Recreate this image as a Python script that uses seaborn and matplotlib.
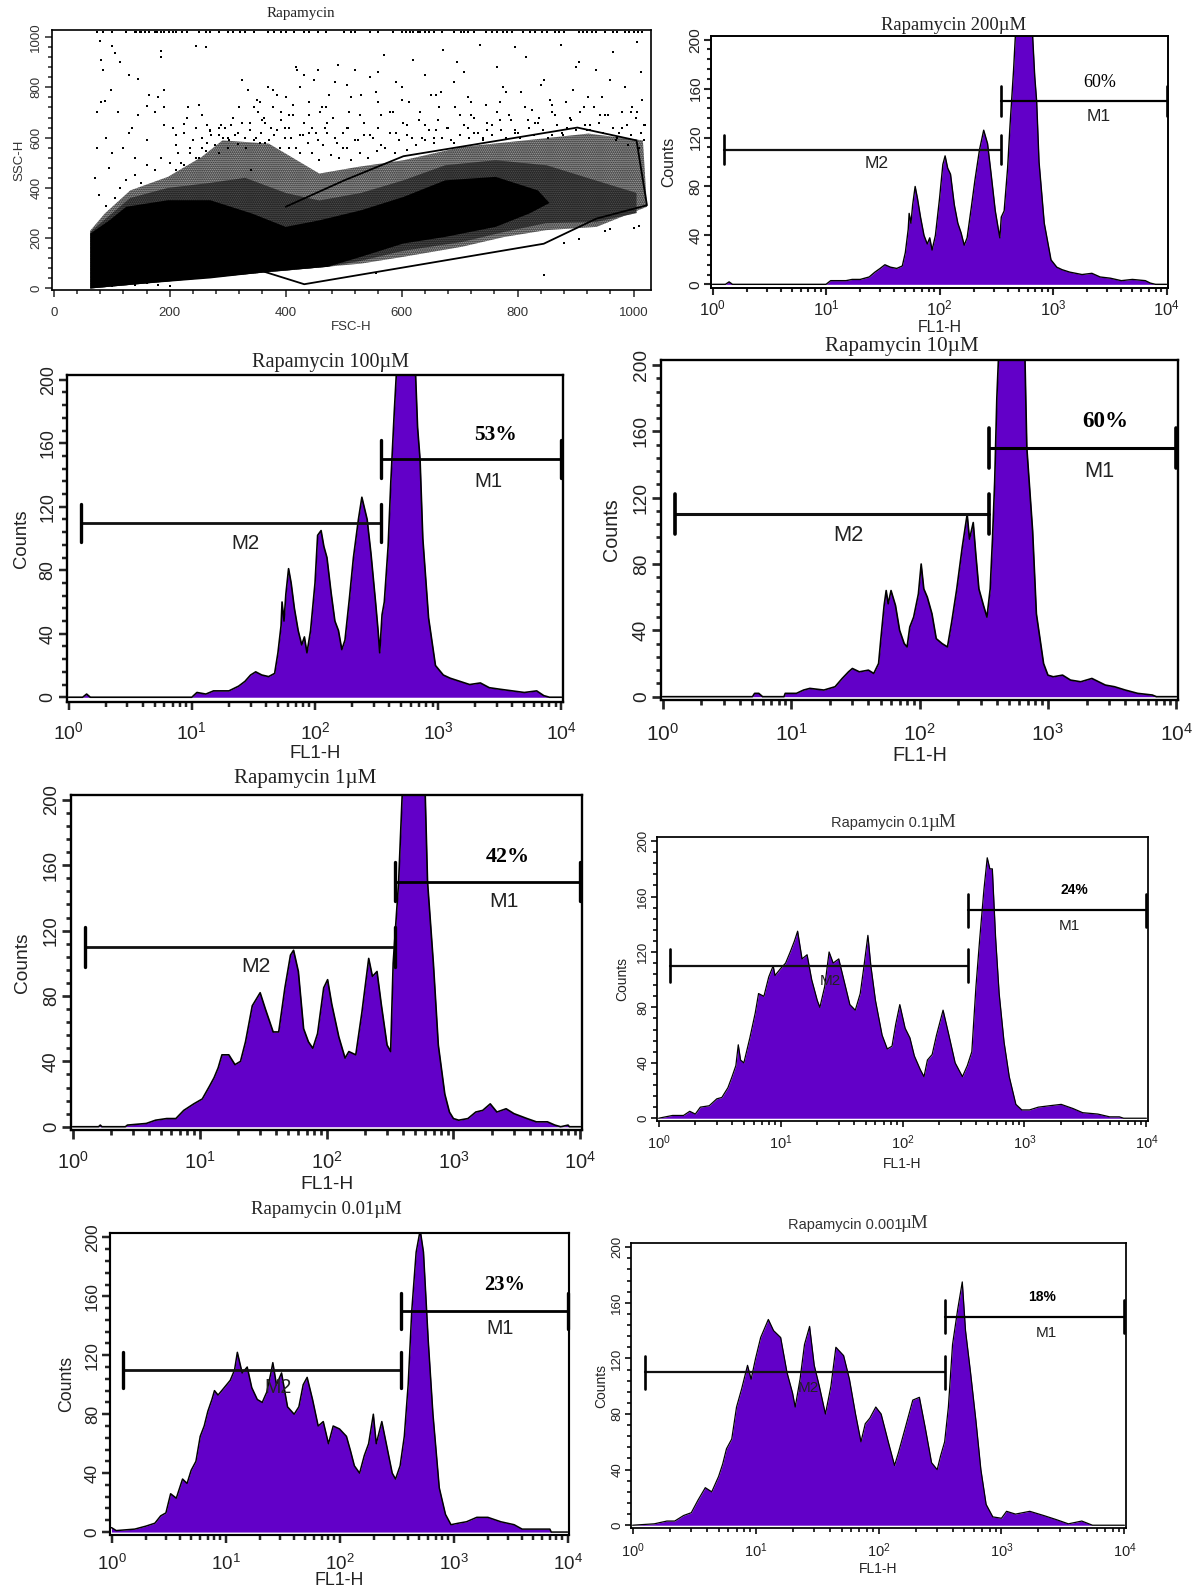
import matplotlib
matplotlib.use("Agg")
import matplotlib.pyplot as plt
from matplotlib.ticker import FixedLocator, MultipleLocator, NullFormatter
import seaborn as sns

sns.set_theme(style="white")
plt.rcParams['font.family'] = ['Liberation Sans', 'DejaVu Sans']
plt.rcParams['mathtext.default'] = 'regular'

PURPLE = "#6200c8"
W, H = 1198, 1591

# --- scatter panel data (FSC-H, SSC-H)
top_row_x = [75, 85, 100, 125, 140, 142, 150, 165, 175, 185, 205, 210, 230, 250, 270, 285, 300, 310, 330, 345,
             370, 380, 400, 415, 440, 455, 470, 500, 520, 545, 560, 585, 600, 615, 620, 640, 655, 670, 690, 715,
             725, 745, 755, 775, 790, 810, 830, 850, 865, 880, 905, 920, 935, 950, 965, 985, 1000, 1015,
             148, 158, 178, 190, 198, 222, 262, 322, 392, 432, 512, 608, 628, 632, 648, 702, 708, 765, 782, 822,
             842, 872, 912, 928, 972, 992, 1008]
sparse_x = [80, 82, 85, 100, 105, 115, 130, 145, 165, 185, 185, 190, 245, 262, 98, 88, 82, 75, 110, 135, 145, 160,
            175, 180, 190, 205, 225, 232, 245, 255, 265, 270, 285, 295, 300, 310, 318, 325, 335, 345, 350, 355, 362,
            370, 375, 385, 392, 400, 405, 412, 420, 425, 432, 440, 448, 455, 460, 468, 475, 482, 490, 498, 505, 512,
            520, 528, 535, 545, 555, 560, 570, 580, 590, 600, 610, 620, 630, 640, 650, 655, 665, 672, 680, 690, 700,
            708, 715, 725, 735, 745, 755, 765, 775, 785, 795, 805, 815, 825, 835, 845, 855, 865, 875, 885, 895, 905,
            915, 925, 935, 945, 955, 965, 975, 985, 995, 1005, 1015, 1020, 1012, 998, 980, 960, 942, 922, 900, 878,
            860, 840, 818, 795, 770, 748, 720, 695, 668, 640, 612, 585, 560, 530, 508, 485, 462, 440, 418, 398, 378,
            355, 338, 320, 302, 288, 272, 255, 240, 225, 210, 430, 445, 410, 390, 365, 348, 332, 455, 472, 488, 505,
            525, 545, 565, 590, 610, 635, 660, 690, 715, 740, 770, 800, 830, 860, 890, 920, 950, 980, 1005, 1018,
            300, 285, 265, 250, 235, 220, 340, 360, 380, 405, 425, 440]
sparse_y = [985, 910, 870, 965, 935, 900, 850, 835, 770, 945, 920, 790, 965, 960, 790, 745, 740, 700, 700, 640, 690,
            725, 700, 760, 720, 640, 655, 720, 640, 690, 650, 625, 610, 640, 600, 680, 620, 830, 790, 720, 750, 580,
            680, 800, 640, 770, 700, 760, 690, 730, 870, 800, 850, 740, 830, 870, 700, 640, 770, 680, 890, 620, 810,
            760, 870, 690, 610, 840, 780, 640, 930, 700, 820, 750, 610, 910, 670, 850, 770, 600, 720, 950, 640, 820,
            690, 860, 760, 620, 970, 730, 650, 880, 800, 690, 630, 780, 920, 710, 660, 830, 750, 690, 970, 640, 790,
            900, 720, 650, 870, 760, 690, 940, 620, 800, 700, 980, 750, 650, 860, 720, 640, 830, 690, 760, 880, 610,
            730, 810, 670, 960, 740, 630, 690, 900, 780, 650, 740, 700, 860, 770, 640, 820, 720, 690, 880, 640, 790,
            740, 660, 720, 590, 650, 610, 560, 590, 620, 570, 610, 640, 600, 560, 580, 600, 560, 590, 620, 580, 560,
            590, 610, 570, 620, 650, 600, 630, 580, 640, 600, 670, 620, 660, 610, 680, 630, 690, 640, 700, 650, 600,
            540, 580, 520, 540, 500, 470, 670, 610, 560, 540, 620]
# the denser dots just above the cloud
extra_pts = [(90, 330), (78, 370), (105, 360), (115, 400), (72, 440), (95, 480), (125, 430), (140, 450), (150, 420),
             (160, 490), (175, 470), (185, 520), (200, 500), (210, 470), (215, 540), (225, 490), (235, 560), (245, 520),
             (255, 600), (262, 545), (270, 630), (278, 570), (285, 640), (292, 600), (300, 560), (305, 650), (312, 610),
             (318, 575), (325, 660), (330, 600), (338, 630), (345, 590), (352, 700), (358, 620), (365, 660), (372, 590),
             (378, 720), (385, 630), (392, 670), (398, 600), (405, 640), (412, 690), (418, 560), (425, 610), (432, 660),
             (438, 580), (445, 540), (452, 620), (458, 510), (465, 570), (472, 660), (478, 530), (485, 600), (492, 520),
             (498, 560), (505, 640), (512, 510), (520, 590), (528, 540), (535, 660), (542, 520), (550, 600), (558, 545),
             (565, 690), (572, 560), (580, 620), (588, 540), (595, 590), (602, 660), (610, 550), (618, 600), (625, 570),
             (632, 700), (640, 590), (648, 630), (655, 580), (662, 670), (670, 600), (678, 640), (685, 590), (692, 720),
             (700, 610), (708, 650), (716, 600), (724, 680), (732, 620), (740, 590), (748, 660), (756, 610), (764, 700),
             (772, 630), (780, 600), (788, 670), (796, 620), (804, 600), (812, 720), (820, 640), (828, 610), (836, 680),
             (844, 630), (852, 600), (860, 700), (868, 650), (876, 620), (884, 740), (892, 670), (900, 630), (908, 700),
             (916, 650), (924, 630), (932, 720), (940, 660), (948, 620), (956, 690), (964, 640), (972, 600), (980, 700),
             (988, 650), (996, 610), (1004, 680), (1012, 620), (1018, 590), (1010, 560), (990, 570), (970, 590),
             (140, 520), (120, 560), (100, 540), (90, 600), (75, 560), (130, 620), (160, 590), (190, 650), (210, 610),
             (230, 680), (250, 730), (470, 720), (510, 700), (560, 740), (600, 800), (660, 770), (720, 740), (780, 780)]
low_x = [845, 100, 120, 140, 160, 180, 200, 70, 555, 1000, 960, 905, 880, 950, 1010]
low_y = [52, 8, 16, 12, 20, 14, 10, 20, 60, 240, 235, 195, 180, 230, 250]

core_x = [63, 96, 125, 197, 270, 342, 400, 458, 530, 603, 675, 762, 835, 855, 820, 762, 675, 603, 530, 472, 371, 270,
          160, 63]
core_y = [218, 271, 325, 351, 351, 298, 245, 271, 311, 364, 430, 444, 390, 340, 298, 245, 205, 179, 126, 86, 66, 40,
          20, 0]
fringe_x = [63, 88, 132, 197, 255, 291, 371, 458, 523, 603, 704, 813, 922, 1016, 1023, 936, 849, 777, 704, 603, 530,
            63]
fringe_y = [230, 298, 390, 444, 523, 589, 576, 457, 483, 510, 563, 589, 616, 589, 325, 245, 232, 205, 166, 126, 99,
            0]
inner_x = [63, 96, 132, 197, 270, 330, 400, 458, 530, 603, 675, 762, 850, 920, 1005, 1005, 936, 849, 777, 704, 603,
           530, 471, 63]
inner_y = [225, 290, 360, 400, 420, 440, 380, 350, 380, 430, 490, 510, 490, 440, 380, 300, 265, 260, 225, 185, 150,
           110, 86, 0]
gate_x = [364, 432, 845, 936, 1023, 1005, 903, 603, 501, 400]
gate_y = [66, 17, 178, 278, 331, 589, 640, 526, 430, 325]

# --- histogram data (FL1-H channel, counts)
x_200 = [1, 1.3, 1.4, 1.5, 10, 11, 13, 15, 17, 20, 24, 27, 30, 33, 37, 42, 47, 50, 53, 54, 56, 58, 61, 64, 68, 73, 78,
         82, 86, 92, 100, 107, 112, 118, 125, 135, 145, 155, 165, 175, 190, 205, 225, 245, 265, 285, 310, 330, 340, 350,
         371, 398, 418, 449, 470, 655, 690, 717, 753, 837, 960, 1080, 1200, 1400, 1800, 2200, 2600, 3200,
         4000, 5000, 6500, 7200, 8000, 10000]
y_200 = [0, 0, 2, 0, 0, 3, 3, 3, 4, 4, 6, 10, 13, 16, 14, 13, 15, 26, 45, 58, 50, 65, 80, 70, 55, 40, 33, 38, 28, 40, 70,
         98, 105, 95, 90, 65, 50, 42, 32, 38, 62, 85, 110, 126, 115, 90, 60, 45, 38, 55, 60, 95, 130, 175, 210, 210, 170,
         150, 100, 50, 20, 14, 12, 10, 8, 9, 6, 5, 3, 4, 3, 1, 0, 0]
x_100 = [1, 1.3, 1.4, 1.5, 10, 11, 13, 15, 17, 20, 24, 27, 30, 33, 37, 42, 47, 50, 53, 54, 56, 58, 61, 64, 68, 73, 78,
         82, 86, 92, 100, 105, 112, 118, 125, 135, 145, 155, 165, 175, 190, 205, 225, 240, 265, 285, 310, 325, 335, 350,
         365, 392, 412, 440, 462, 650, 680, 712, 750, 835, 950, 1100, 1250, 1500, 1800, 2200, 2600, 3200,
         4000, 5000, 6300, 7200, 8000, 10000]
y_100 = [0, 0, 2, 0, 0, 3, 2, 4, 4, 4, 7, 10, 14, 16, 14, 13, 15, 28, 45, 60, 48, 65, 81, 72, 56, 42, 33, 38, 28, 42, 72,
         102, 105, 95, 88, 66, 48, 42, 30, 36, 62, 88, 112, 126, 112, 90, 60, 42, 28, 52, 60, 95, 135, 180, 210, 210, 170,
         150, 100, 50, 20, 14, 12, 10, 8, 9, 6, 5, 4, 3, 4, 1, 0, 0]
x_10 = [1, 5, 5.2, 5.6, 6, 8.8, 9, 11, 12.5, 14, 18, 22, 25, 28, 30, 34, 40, 44, 48, 50, 53, 55, 57, 60, 65, 70, 76, 80,
        84, 90, 98, 103, 108, 115, 125, 135, 150, 165, 178, 195, 215, 235, 245, 262, 275, 290, 315, 335, 355, 370, 385,
        400, 415, 660, 672, 685, 760, 813, 925, 1000, 1100, 1300, 1500, 1800, 2200, 2800, 3300, 4000, 5000, 6500,
        7000, 10000]
y_10 = [0, 0, 2, 2, 0, 0, 2, 2, 4, 5, 4, 6, 11, 15, 17, 15, 16, 14, 20, 35, 55, 64, 56, 64, 55, 40, 32, 30, 42, 48, 62,
        80, 65, 60, 50, 35, 32, 30, 45, 65, 90, 110, 95, 105, 85, 65, 55, 48, 65, 95, 130, 180, 210, 210, 180, 150, 100,
        50, 20, 13, 12, 13, 10, 9, 11, 7, 6, 4, 2, 1, 0, 0]
x_1 = [1, 1.6, 1.65, 1.7, 2.6, 2.7, 3.8, 4.5, 5.5, 6.5, 7.5, 9, 10.5, 12, 13, 14, 15, 17, 19, 21, 23, 26, 30, 33, 38, 42,
       47, 52, 55, 60, 66, 72, 78, 85, 95, 102, 110, 125, 140, 150, 170, 190, 215, 230, 250, 270, 300, 320, 335, 370,
       398, 596, 625, 695, 760, 855, 930, 1000, 1100, 1300, 1500, 1700, 1950, 2200, 2600, 3000, 3800, 4500,
       5500, 6300, 7000, 8000, 8200, 10000]
y_1 = [0, 0, 1, 0, 0, 1, 2, 4, 5, 5, 10, 14, 17, 25, 30, 36, 44, 44, 38, 40, 52, 74, 82, 72, 58, 58, 85, 105, 108, 95, 60,
       52, 48, 57, 85, 90, 75, 55, 42, 46, 44, 70, 103, 92, 95, 75, 50, 46, 100, 150, 210, 210, 150, 100, 50, 20, 9, 5,
       4, 5, 9, 10, 14, 9, 11, 8, 5, 3, 3, 1, 0, 1, 0, 0]
x_01 = [1, 1.3, 1.6, 1.8, 2, 2.2, 2.6, 3, 3.3, 3.7, 4, 4.3, 4.5, 4.7, 5, 5.6, 6.2, 6.6, 7.3, 8, 8.7, 9, 10, 11, 12, 13,
        13.8, 15, 16.5, 18, 20, 21, 23, 25, 27, 30, 33, 37, 41, 45, 48, 52, 55, 60, 68, 75, 82, 88, 95, 105, 115, 125,
        140, 150, 160, 175, 190, 215, 240, 270, 310, 340, 370, 400, 430, 465, 495, 520, 545, 580, 620, 680, 750, 850,
        950, 1100, 1300, 1600, 2000, 2500, 3000, 4000, 5000, 6000, 6500, 10000]
y_01 = [0, 2, 2, 5, 3, 8, 9, 14, 15, 22, 30, 38, 53, 42, 40, 58, 76, 90, 88, 102, 110, 103, 108, 112, 120, 128, 135, 115,
        118, 100, 85, 80, 95, 120, 112, 115, 100, 82, 78, 90, 108, 132, 110, 85, 60, 50, 52, 68, 82, 65, 58, 45, 35, 30,
        42, 46, 60, 78, 60, 40, 30, 38, 48, 95, 130, 165, 188, 180, 180, 130, 90, 55, 30, 10, 6, 6, 8, 9, 10, 7, 4, 3, 1,
        1, 0, 0]
x_001 = [1, 1.1, 1.6, 2, 2.4, 2.7, 3, 3.3, 3.7, 4.2, 4.6, 5, 5.5, 6, 6.5, 7, 7.6, 8, 8.6, 9.5, 11, 12, 12.7, 14, 15.5, 17,
         19, 21, 23, 25, 26, 28, 31, 35, 40, 44, 48, 52, 58, 65, 72, 80, 88, 100, 115, 125, 135, 150, 165, 180, 198, 210,
         235, 265, 290, 310, 340, 370, 400, 430, 470, 510, 545, 600, 660, 750, 850, 950, 1100, 1300, 1600, 2000, 2600,
         3400, 4000, 7000, 7200, 10000]
y_001 = [3, 1, 2, 4, 6, 11, 13, 26, 23, 36, 33, 42, 48, 65, 72, 82, 90, 96, 93, 97, 103, 110, 122, 108, 112, 98, 90, 88,
         95, 108, 115, 100, 108, 85, 80, 85, 100, 105, 90, 72, 75, 60, 72, 70, 65, 55, 45, 40, 52, 60, 80, 60, 75, 55, 40,
         36, 45, 65, 100, 150, 190, 205, 190, 130, 80, 30, 12, 5, 6, 7, 10, 10, 7, 5, 2, 2, 0, 0]
x_0001 = [1, 1.5, 1.9, 2.2, 2.6, 3, 3.4, 3.9, 4.4, 5, 5.4, 5.8, 6.4, 7, 7.7, 8.6, 9.2, 10, 11, 12.7, 14, 16, 18, 20, 21,
          23, 25, 27.5, 30, 33, 37, 41, 45, 52, 58, 65, 72, 78, 85, 95, 105, 120, 135, 145, 165, 190, 215, 240, 270, 300,
          320, 345, 370, 400, 440, 480, 510, 560, 620, 680, 750, 850, 1000, 1100, 1300, 1700, 2200, 2800, 3500, 4500,
          5500, 10000]
y_0001 = [0, 1, 3, 3, 7, 9, 18, 27, 24, 35, 44, 55, 62, 85, 98, 115, 105, 120, 135, 148, 140, 135, 110, 95, 85, 105, 130,
          143, 115, 100, 80, 100, 128, 122, 105, 80, 60, 73, 77, 85, 80, 60, 43, 52, 70, 90, 92, 70, 45, 40, 50, 60, 85,
          130, 155, 175, 140, 110, 75, 40, 15, 6, 5, 10, 8, 10, 7, 4, 1, 3, 0, 0]

decade_ticks = [1, 10, 100, 1000, 10000]
decade_labels = ['$10^{0}$', '$10^{1}$', '$10^{2}$', '$10^{3}$', '$10^{4}$']
count_ticks = [0, 40, 80, 120, 160, 200]
fsc_ticks = [0, 200, 400, 600, 800, 1000]
ssc_ticks = [0, 200, 400, 600, 800, 1000]

gate_m1 = [345, 10000]
gate_m2 = [1.25, 345]


def make_axes(fig, left, right, top, bottom):
    ax = fig.add_axes([left / W, 1 - bottom / H, (right - left) / W, (bottom - top) / H])
    for s in ax.spines.values():
        s.set_color('black')
    return ax


def draw_hist(fig, cfg, x, y):
    ax = make_axes(fig, *cfg['box'])
    ax.set_xscale('log')
    ax.fill_between(x, 0, y, color=PURPLE, lw=0, zorder=2)
    sns.lineplot(x=x, y=y, ax=ax, color='black', lw=cfg['lw'], estimator=None, errorbar=None, sort=False, zorder=3)
    ax.set_xlim(cfg['xlim'])
    ax.set_ylim(cfg['ylim'])
    fs = cfg['fs']
    ax.xaxis.set_major_locator(FixedLocator(decade_ticks))
    ax.set_xticklabels(decade_labels, fontsize=fs, color='#222222')
    minors = [m * d for d in decade_ticks[:4] for m in range(2, 10)]
    ax.xaxis.set_minor_locator(FixedLocator(minors))
    ax.xaxis.set_minor_formatter(NullFormatter())
    ax.yaxis.set_major_locator(FixedLocator(count_ticks))
    ax.yaxis.set_minor_locator(MultipleLocator(8))
    ax.set_yticklabels([str(t) for t in count_ticks], fontsize=fs * 0.92, rotation=90, va='center', color='#222222')
    tick = cfg['tick']
    ax.tick_params(axis='both', which='major', direction='out', length=tick, width=tick * 0.3,
                   bottom=True, left=True, pad=fs * 0.1)
    ax.tick_params(axis='x', which='major', pad=fs * 0.1 + cfg['xpad'] * 0.72)
    ax.tick_params(axis='both', which='minor', direction='out', length=tick * 0.6, width=tick * 0.3,
                   bottom=True, left=True)
    ax.set_xlabel('FL1-H', fontsize=fs * 0.95, color='#222222', labelpad=-fs * 0.1 + cfg['xlp'] * 0.72)
    ax.set_ylabel('Counts', fontsize=fs * 0.95, color='#222222', labelpad=fs * 0.2 + cfg['ylp'] * 0.72)
    for s in ax.spines.values():
        s.set_linewidth(cfg['lw'] * 1.4)

    # marker gates
    gw = cfg['gate_lw']
    ax.plot(gate_m1, [150, 150], color='black', lw=gw, zorder=4)
    ax.plot(gate_m2, [110, 110], color='#111111', lw=gw, zorder=4)
    for gx, gy in [(gate_m1[0], 150), (gate_m1[1], 150), (gate_m2[0], 110), (gate_m2[1], 110)]:
        ax.plot([gx, gx], [gy - 12, gy + 12], color='black', lw=gw * 1.2, zorder=4, clip_on=False)
    ax.text(cfg['m1'][0], cfg['m1'][1], 'M1', fontsize=fs * 1.05, ha='center', va='center', color='#222222', zorder=5)
    ax.text(cfg['m2'][0], cfg['m2'][1], 'M2', fontsize=fs * 1.05, ha='center', va='center', color='#222222', zorder=5)
    ax.text(cfg['pct_pos'][0], cfg['pct_pos'][1], cfg['pct'], fontsize=cfg['pct_fs'], ha='center', va='center',
            fontweight=cfg['pct_w'], family=cfg['pct_fam'], color='black', zorder=5)

    # title, two of them mix a sans name with a serif unit
    tx, ty = cfg['title_pos']
    if cfg['sans_title']:
        fig.text(tx / W, 1 - ty / H, cfg['title'], fontsize=cfg['title_fs'], ha='center', va='center',
                 family=['Liberation Sans Narrow', 'Liberation Sans'], color='#333333')
        fig.text(cfg['unit_x'] / W, 1 - (ty - 1) / H, 'µM', fontsize=cfg['title_fs'] * 1.3, ha='left', va='center',
                 family='Liberation Serif', color='#333333')
    else:
        fig.text(tx / W, 1 - ty / H, cfg['title'], fontsize=cfg['title_fs'], ha='center', va='center',
                 family='Liberation Serif', color='#222222')
    return ax


fig = plt.figure(figsize=(W / 100, H / 100), dpi=100)

# scatter panel
ax0 = make_axes(fig, 52, 651, 30, 290)
ax0.fill(fringe_x, fringe_y, facecolor='#c0c0c0', edgecolor='black', hatch='........', lw=0, zorder=1)
ax0.fill(inner_x, inner_y, facecolor='#606060', edgecolor='black', hatch='........', lw=0, zorder=1)
ax0.fill(core_x, core_y, color='black', lw=0, zorder=2)
extra_x = [p[0] for p in extra_pts]
extra_y = [p[1] for p in extra_pts]
sns.scatterplot(x=sparse_x, y=sparse_y, ax=ax0, color='black', marker='s', s=3, linewidth=0, zorder=2)
sns.scatterplot(x=extra_x, y=extra_y, ax=ax0, color='black', marker='s', s=3, linewidth=0, zorder=2)
sns.scatterplot(x=low_x, y=low_y, ax=ax0, color='black', marker='s', s=3, linewidth=0, zorder=2)
sns.scatterplot(x=top_row_x, y=[1020] * len(top_row_x), ax=ax0, color='black', marker='s', s=3, linewidth=0, zorder=2)
sns.lineplot(x=gate_x, y=gate_y, ax=ax0, color='black', lw=1.3, estimator=None, errorbar=None, sort=False, zorder=3)
ax0.set_xlim(-3, 1030)
ax0.set_ylim(-6, 1028)
ax0.xaxis.set_major_locator(FixedLocator(fsc_ticks))
ax0.xaxis.set_minor_locator(MultipleLocator(40))
ax0.yaxis.set_major_locator(FixedLocator(ssc_ticks))
ax0.yaxis.set_minor_locator(MultipleLocator(40))
ax0.set_xticklabels([str(t) for t in fsc_ticks], fontsize=9.5, color='#333333')
ax0.set_yticklabels([str(t) for t in ssc_ticks], fontsize=9.5, rotation=90, va='center', color='#333333')
ax0.tick_params(axis='both', which='major', direction='out', length=5, width=1.1, bottom=True, left=True, pad=2)
ax0.tick_params(axis='x', which='major', pad=7.5)
ax0.tick_params(axis='both', which='minor', direction='out', length=3, width=1.1, bottom=True, left=True)
ax0.set_xlabel('FSC-H', fontsize=9.5, color='#333333', labelpad=1.5)
ax0.set_ylabel('SSC-H', fontsize=9.5, color='#333333', labelpad=3.5)
for s in ax0.spines.values():
    s.set_linewidth(1.2)
fig.text(301 / W, 1 - 13 / H, 'Rapamycin', fontsize=10.8, ha='center', va='center', family='Liberation Serif',
         color='#222222')

panels = [
    (dict(box=(711, 1168, 36, 288), xlim=(0.97, 10300), ylim=(-3, 203), fs=12, lw=1.0, tick=5, gate_lw=1.6,
          xpad=2, xlp=3, ylp=9, m1=(2500, 137), m2=(28, 99), pct='60%', pct_pos=(2600, 165), pct_fs=13, pct_w='normal',
          pct_fam='Liberation Serif', title='Rapamycin 200µM', title_pos=(954, 25), title_fs=13.4, sans_title=False),
     x_200, y_200),
    (dict(box=(67, 563, 375, 702), xlim=(0.97, 10300), ylim=(-3, 203), fs=14, lw=1.2, tick=6, gate_lw=2.0,
          xpad=9, xlp=4, ylp=6, m1=(2570, 136), m2=(27, 97), pct='53%', pct_pos=(2900, 165), pct_fs=15.5, pct_w='bold',
          pct_fam='Liberation Serif', title='Rapamycin 100µM', title_pos=(331, 362), title_fs=14.6, sans_title=False),
     x_100, y_100),
    (dict(box=(661, 1178, 360, 700), xlim=(0.97, 10300), ylim=(-2, 203), fs=15, lw=1.2, tick=6.5, gate_lw=2.2,
          xpad=12, xlp=3, ylp=8, m1=(2520, 136), m2=(28, 97), pct='60%', pct_pos=(2790, 166), pct_fs=16.6, pct_w='bold',
          pct_fam='Liberation Serif', title='Rapamycin 10µM', title_pos=(902, 346), title_fs=15.2, sans_title=False),
     x_10, y_10),
    (dict(box=(71, 582, 795, 1130), xlim=(0.97, 10300), ylim=(-2, 203), fs=14.5, lw=1.2, tick=6.5, gate_lw=2.0,
          xpad=10, xlp=5, ylp=8, m1=(2500, 138), m2=(28, 98), pct='42%', pct_pos=(2700, 165), pct_fs=15.9, pct_w='bold',
          pct_fam='Liberation Serif', title='Rapamycin 1µM', title_pos=(305, 779), title_fs=15.1, sans_title=False),
     x_1, y_1),
    (dict(box=(657, 1148, 837, 1121), xlim=(0.97, 10300), ylim=(-2, 203), fs=10.5, lw=0.9, tick=4.5, gate_lw=1.6,
          xpad=5, xlp=6, ylp=5, m1=(2340, 139), m2=(25.7, 99), pct='24%', pct_pos=(2560, 165), pct_fs=10, pct_w='bold',
          pct_fam=['Liberation Sans Narrow', 'Liberation Sans'], title='Rapamycin 0.1', title_pos=(880, 823),
          title_fs=10.5, sans_title=True, unit_x=928), x_01, y_01),
    (dict(box=(110, 569, 1233, 1535), xlim=(0.97, 10300), ylim=(-2, 203), fs=13.5, lw=1.1, tick=6, gate_lw=2.0,
          xpad=9, xlp=0, ylp=6, m1=(2560, 138), m2=(29, 98), pct='23%', pct_pos=(2820, 168), pct_fs=14.7, pct_w='bold',
          pct_fam='Liberation Serif', title='Rapamycin 0.01µM', title_pos=(326, 1210), title_fs=13.5, sans_title=False),
     x_001, y_001),
    (dict(box=(631, 1126, 1243, 1528), xlim=(0.97, 10300), ylim=(-2, 203), fs=10.5, lw=0.9, tick=4.5, gate_lw=1.6,
          xpad=6, xlp=3, ylp=0, m1=(2340, 138), m2=(27, 99), pct='18%', pct_pos=(2130, 164), pct_fs=10, pct_w='bold',
          pct_fam=['Liberation Sans Narrow', 'Liberation Sans'], title='Rapamycin 0.001', title_pos=(845, 1225),
          title_fs=10.5, sans_title=True, unit_x=900), x_0001, y_0001),
]
for cfg, x, y in panels:
    draw_hist(fig, cfg, x, y)

fig.savefig('out.png', dpi=100)
